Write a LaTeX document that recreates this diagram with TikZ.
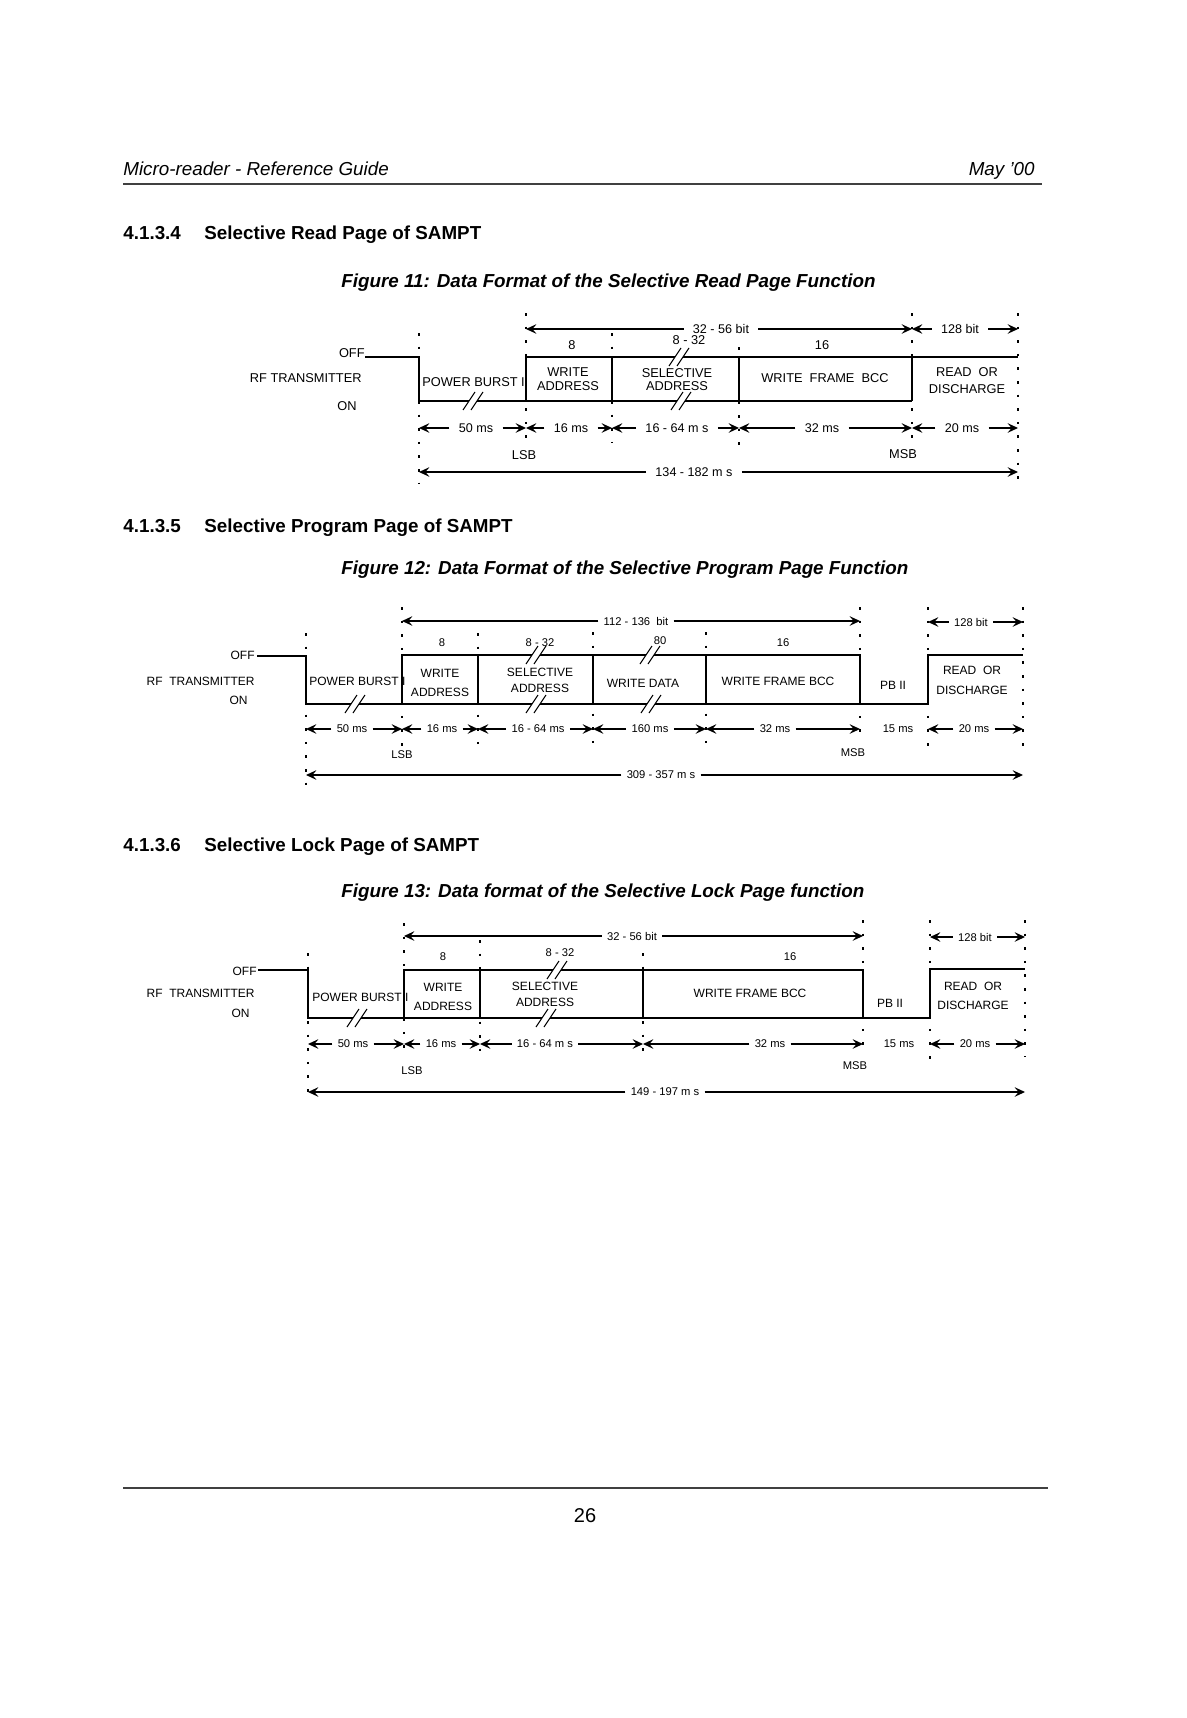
\documentclass[tikz,border=0pt]{standalone}
\usepackage{fontspec}
\setmainfont{Liberation Sans}
\usetikzlibrary{arrows.meta}
\newcommand\setfs[1]{\fontsize{#1}{#1}\selectfont}
% dimension row: name, y, x1, x2, label x, style, text
\newcommand\dimrow[7]{%
  \coordinate (#1L) at (#3,#2);
  \coordinate (#1R) at (#4,#2);
  \node[#6] (#1) at (#5,#2) {#7};
  \draw[arr] (#1.west) -- (#1L);
  \draw[arr] (#1.east) -- (#1R);}
% break mark "//" centred at x,y
\newcommand\brkmark[2]{%
  \begin{scope}[shift={(#1,#2)}]
    \fill[white] (-11,9) -- (1,-9) -- (9,-9) -- (-3,9) -- cycle;
    \draw[brk] (-11,9) -- (1,-9) (-3,9) -- (9,-9);
  \end{scope}}
\newcommand\vdot[3]{\draw[dotv] (#1,#2) -- (#1,#3);}
\begin{document}
\begin{tikzpicture}[x=0.5pt,y=-0.5pt,
  sig/.style={line width=0.6pt},
  dotv/.style={line width=0.7pt,dash pattern=on 1.3pt off 5.5pt},
  arr/.style={line width=0.6pt,-{Stealth[length=5.2pt,width=4.8pt,inset=2pt]}},
  brk/.style={line width=0.5pt},
  t11/.style={inner sep=0pt,font=\setfs{6.4}},
  t12/.style={inner sep=0pt,font=\setfs{6}},
  n11/.style={inner xsep=4.5pt,inner ysep=0pt,font=\setfs{6.3}},
  n12/.style={inner xsep=2.5pt,inner ysep=0pt,font=\setfs{5.6}},
  hdrtext/.style={inner sep=0pt,font=\itshape\setfs{9.4}},
  sectext/.style={inner sep=0pt,font=\bfseries\setfs{9.4}},
  figcap/.style={inner sep=0pt,font=\bfseries\itshape\setfs{9.4}},
]
\useasboundingbox[fill=white] (0,0) rectangle (1187,1718);

% ---------------- page header / footer ----------------
\node[hdrtext,anchor=base west] (hdrl) at (123,176) {Micro-reader - Reference Guide};
\node[hdrtext,anchor=base east] (hdrr) at (1035,176) {May '00};
\draw[line width=0.6pt,black!75] (123,184) -- (1042,184);
\draw[line width=0.6pt,black!75] (123,1488) -- (1048,1488);
\node[inner sep=0pt,font=\setfs{10},anchor=base] (pgno) at (585,1522) {26};

% ---------------- section headings ----------------
\node[sectext,anchor=base west] (s1n) at (123,239) {4.1.3.4};
\node[sectext,anchor=base west] (s1t) at (204,239) {Selective Read Page of SAMPT};
\node[figcap,anchor=base west] (c1) at (341,287) {Figure 11: Data Format of the Selective Read Page Function};
\node[sectext,anchor=base west] (s2n) at (123,532) {4.1.3.5};
\node[sectext,anchor=base west] (s2t) at (204,532) {Selective Program Page of SAMPT};
\node[figcap,anchor=base west] (c2) at (341,574) {Figure 12: Data Format of the Selective Program Page Function};
\node[sectext,anchor=base west] (s3n) at (123,851) {4.1.3.6};
\node[sectext,anchor=base west] (s3t) at (204,851) {Selective Lock Page of SAMPT};
\node[figcap,anchor=base west] (c3) at (341,897) {Figure 13: Data format of the Selective Lock Page function};

% ================= FIGURE 11 =================
\vdot{419}{333}{483}
\vdot{526}{313}{445}
\vdot{612}{333}{443}
\vdot{739}{347}{447}
\vdot{912}{313}{450}
\vdot{1018}{313}{483}
% signal
\node[t11,anchor=east] (f11off) at (365,353) {OFF};
\node[t11,anchor=east] (f11rf) at (362,378) {RF TRANSMITTER};
\node[t11,anchor=east] (f11on) at (357,406) {ON};
\draw[sig] (365,357) -- (419,357) -- (419,401) -- (912,401);
\draw[sig] (526,401) -- (526,357) -- (1018,357);
\draw[sig] (612,357) -- (612,401) (739,357) -- (739,401) (912,357) -- (912,401);
\brkmark{474}{401}
\brkmark{680}{357}
\brkmark{682}{401}
% texts in boxes
\node[t11,anchor=west] (f11pb) at (422,382) {POWER BURST I};
\node[t11] (f11wa1) at (568,372) {WRITE};
\node[t11] (f11wa2) at (568,386) {ADDRESS};
\node[t11] (f11sa1) at (677,373) {SELECTIVE};
\node[t11] (f11sa2) at (677,386) {ADDRESS};
\node[t11] (f11bcc) at (825,378) {WRITE\ \ FRAME\ \ BCC};
\node[t11] (f11rd1) at (967,372) {READ\ \ OR};
\node[t11] (f11rd2) at (967,389) {DISCHARGE};
% bit counts
\node[t11] (f11b8) at (572,345) {8};
\node[t11] (f11b832) at (689,340) {8 - 32};
\node[t11] (f11b16) at (822,345) {16};
% top arrows
\dimrow{f11top}{329}{526}{912}{721}{n11}{32 - 56 bit}
\dimrow{f11tb}{329}{912}{1018}{960}{n11}{128 bit}
% time row
\dimrow{f11t1}{428}{419}{526}{476}{n11}{50 ms}
\dimrow{f11t2}{428}{526}{612}{571}{n11}{16 ms}
\dimrow{f11t3}{428}{612}{739}{677}{n11}{16 - 64 m s}
\dimrow{f11t4}{428}{739}{912}{822}{n11}{32 ms}
\dimrow{f11t5}{428}{912}{1018}{962}{n11}{20 ms}
\node[t11] (f11lsb) at (524,455) {LSB};
\node[t11] (f11msb) at (903,454) {MSB};
\dimrow{f11tot}{472}{419}{1018}{694}{n11}{134 - 182 m s}

% ================= FIGURE 12 =================
\vdot{306}{633}{785}
\vdot{402}{607}{747}
\vdot{478}{633}{745}
\vdot{593}{632}{747}
\vdot{706}{632}{747}
\vdot{860}{607}{740}
\vdot{928}{607}{747}
\vdot{1023}{607}{750}
\node[t12,anchor=east] (f12off) at (255,655) {OFF};
\node[t12,anchor=east] (f12rf) at (255,681) {RF\ \ TRANSMITTER};
\node[t12,anchor=east] (f12on) at (248,700) {ON};
\draw[sig] (f12off.east) ++(2,1) -- (306,656) -- (306,704) -- (928,704) -- (928,655) -- (1023,655);
\draw[sig] (402,704) -- (402,655) -- (860,655) -- (860,704);
\draw[sig] (478,655) -- (478,704) (593,655) -- (593,704) (706,655) -- (706,704);
\brkmark{356}{704}
\brkmark{537}{655}
\brkmark{537}{704}
\brkmark{651}{655}
\brkmark{652}{704}
\node[t12,anchor=west] (f12pb) at (309,681) {POWER BURST I};
\node[t12] (f12wa1) at (440,673) {WRITE};
\node[t12] (f12wa2) at (440,692) {ADDRESS};
\node[t12] (f12sa1) at (540,672) {SELECTIVE};
\node[t12] (f12sa2) at (540,688) {ADDRESS};
\node[t12] (f12wd) at (643,683) {WRITE DATA};
\node[t12] (f12bcc) at (778,681) {WRITE FRAME BCC};
\node[t12] (f12pb2) at (893,685) {PB II};
\node[t12] (f12rd1) at (972,670) {READ\ \ OR};
\node[t12] (f12rd2) at (972,690) {DISCHARGE};
\node[t12,font=\setfs{5.6}] (f12b8) at (442,643) {8};
\node[t12,font=\setfs{5.6}] (f12b832) at (540,643) {8 - 32};
\node[t12,font=\setfs{5.6}] (f12b80) at (660,641) {80};
\node[t12,font=\setfs{5.6}] (f12b16) at (783,643) {16};
\dimrow{f12top}{621}{402}{860}{636}{n12}{112 - 136\ \ bit}
\dimrow{f12tb}{622}{928}{1023}{971}{n12}{128 bit}
\dimrow{f12t1}{729}{306}{402}{352}{n12}{50 ms}
\dimrow{f12t2}{729}{402}{478}{442}{n12}{16 ms}
\dimrow{f12t3}{729}{478}{593}{538}{n12}{16 - 64 ms}
\dimrow{f12t4}{729}{593}{706}{650}{n12}{160 ms}
\dimrow{f12t5}{729}{706}{860}{775}{n12}{32 ms}
\node[t12,font=\setfs{5.6}] (f12t6) at (898,729) {15 ms};
\dimrow{f12t7}{729}{928}{1023}{974}{n12}{20 ms}
\node[t12,font=\setfs{5.6}] (f12lsb) at (402,755) {LSB};
\node[t12,font=\setfs{5.6}] (f12msb) at (853,753) {MSB};
\dimrow{f12tot}{775}{306}{1023}{661}{n12}{309 - 357 m s}

% ================= FIGURE 13 =================
\vdot{308}{953}{1100}
\vdot{404}{923}{1050}
\vdot{480}{940}{1053}
\vdot{643}{953}{1053}
\vdot{863}{920}{1050}
\vdot{930}{920}{1060}
\vdot{1025}{920}{1057}
\node[t12,anchor=east] (f13off) at (257,971) {OFF};
\node[t12,anchor=east] (f13rf) at (255,993) {RF\ \ TRANSMITTER};
\node[t12,anchor=east] (f13on) at (250,1013) {ON};
\draw[sig] (f13off.east) ++(1,-1) -- (308,970) -- (308,1018) -- (930,1018) -- (930,969) -- (1025,969);
\draw[sig] (404,1018) -- (404,970) -- (863,970) -- (863,1018);
\draw[sig] (480,970) -- (480,1018) (643,970) -- (643,1018);
\brkmark{358}{1018}
\brkmark{558}{970}
\brkmark{547}{1018}
\node[t12,anchor=west] (f13pb) at (312,997) {POWER BURST I};
\node[t12] (f13wa1) at (443,987) {WRITE};
\node[t12] (f13wa2) at (443,1006) {ADDRESS};
\node[t12] (f13sa1) at (545,986) {SELECTIVE};
\node[t12] (f13sa2) at (545,1002) {ADDRESS};
\node[t12] (f13bcc) at (750,993) {WRITE FRAME BCC};
\node[t12] (f13pb2) at (890,1003) {PB II};
\node[t12] (f13rd1) at (973,986) {READ\ \ OR};
\node[t12] (f13rd2) at (973,1005) {DISCHARGE};
\node[t12,font=\setfs{5.6}] (f13b8) at (443,957) {8};
\node[t12,font=\setfs{5.6}] (f13b832) at (560,953) {8 - 32};
\node[t12,font=\setfs{5.6}] (f13b16) at (790,957) {16};
\dimrow{f13top}{936}{404}{863}{632}{n12}{32 - 56 bit}
\dimrow{f13tb}{937}{930}{1025}{975}{n12}{128 bit}
\dimrow{f13t1}{1044}{308}{404}{353}{n12}{50 ms}
\dimrow{f13t2}{1044}{404}{480}{441}{n12}{16 ms}
\dimrow{f13t3}{1044}{480}{643}{545}{n12}{16 - 64 m s}
\dimrow{f13t4}{1044}{643}{863}{770}{n12}{32 ms}
\node[t12,font=\setfs{5.6}] (f13t5) at (899,1044) {15 ms};
\dimrow{f13t6}{1044}{930}{1025}{975}{n12}{20 ms}
\node[t12,font=\setfs{5.6}] (f13lsb) at (412,1071) {LSB};
\node[t12,font=\setfs{5.6}] (f13msb) at (855,1066) {MSB};
\dimrow{f13tot}{1092}{308}{1025}{665}{n12}{149 - 197 m s}
\end{tikzpicture}
\end{document}
